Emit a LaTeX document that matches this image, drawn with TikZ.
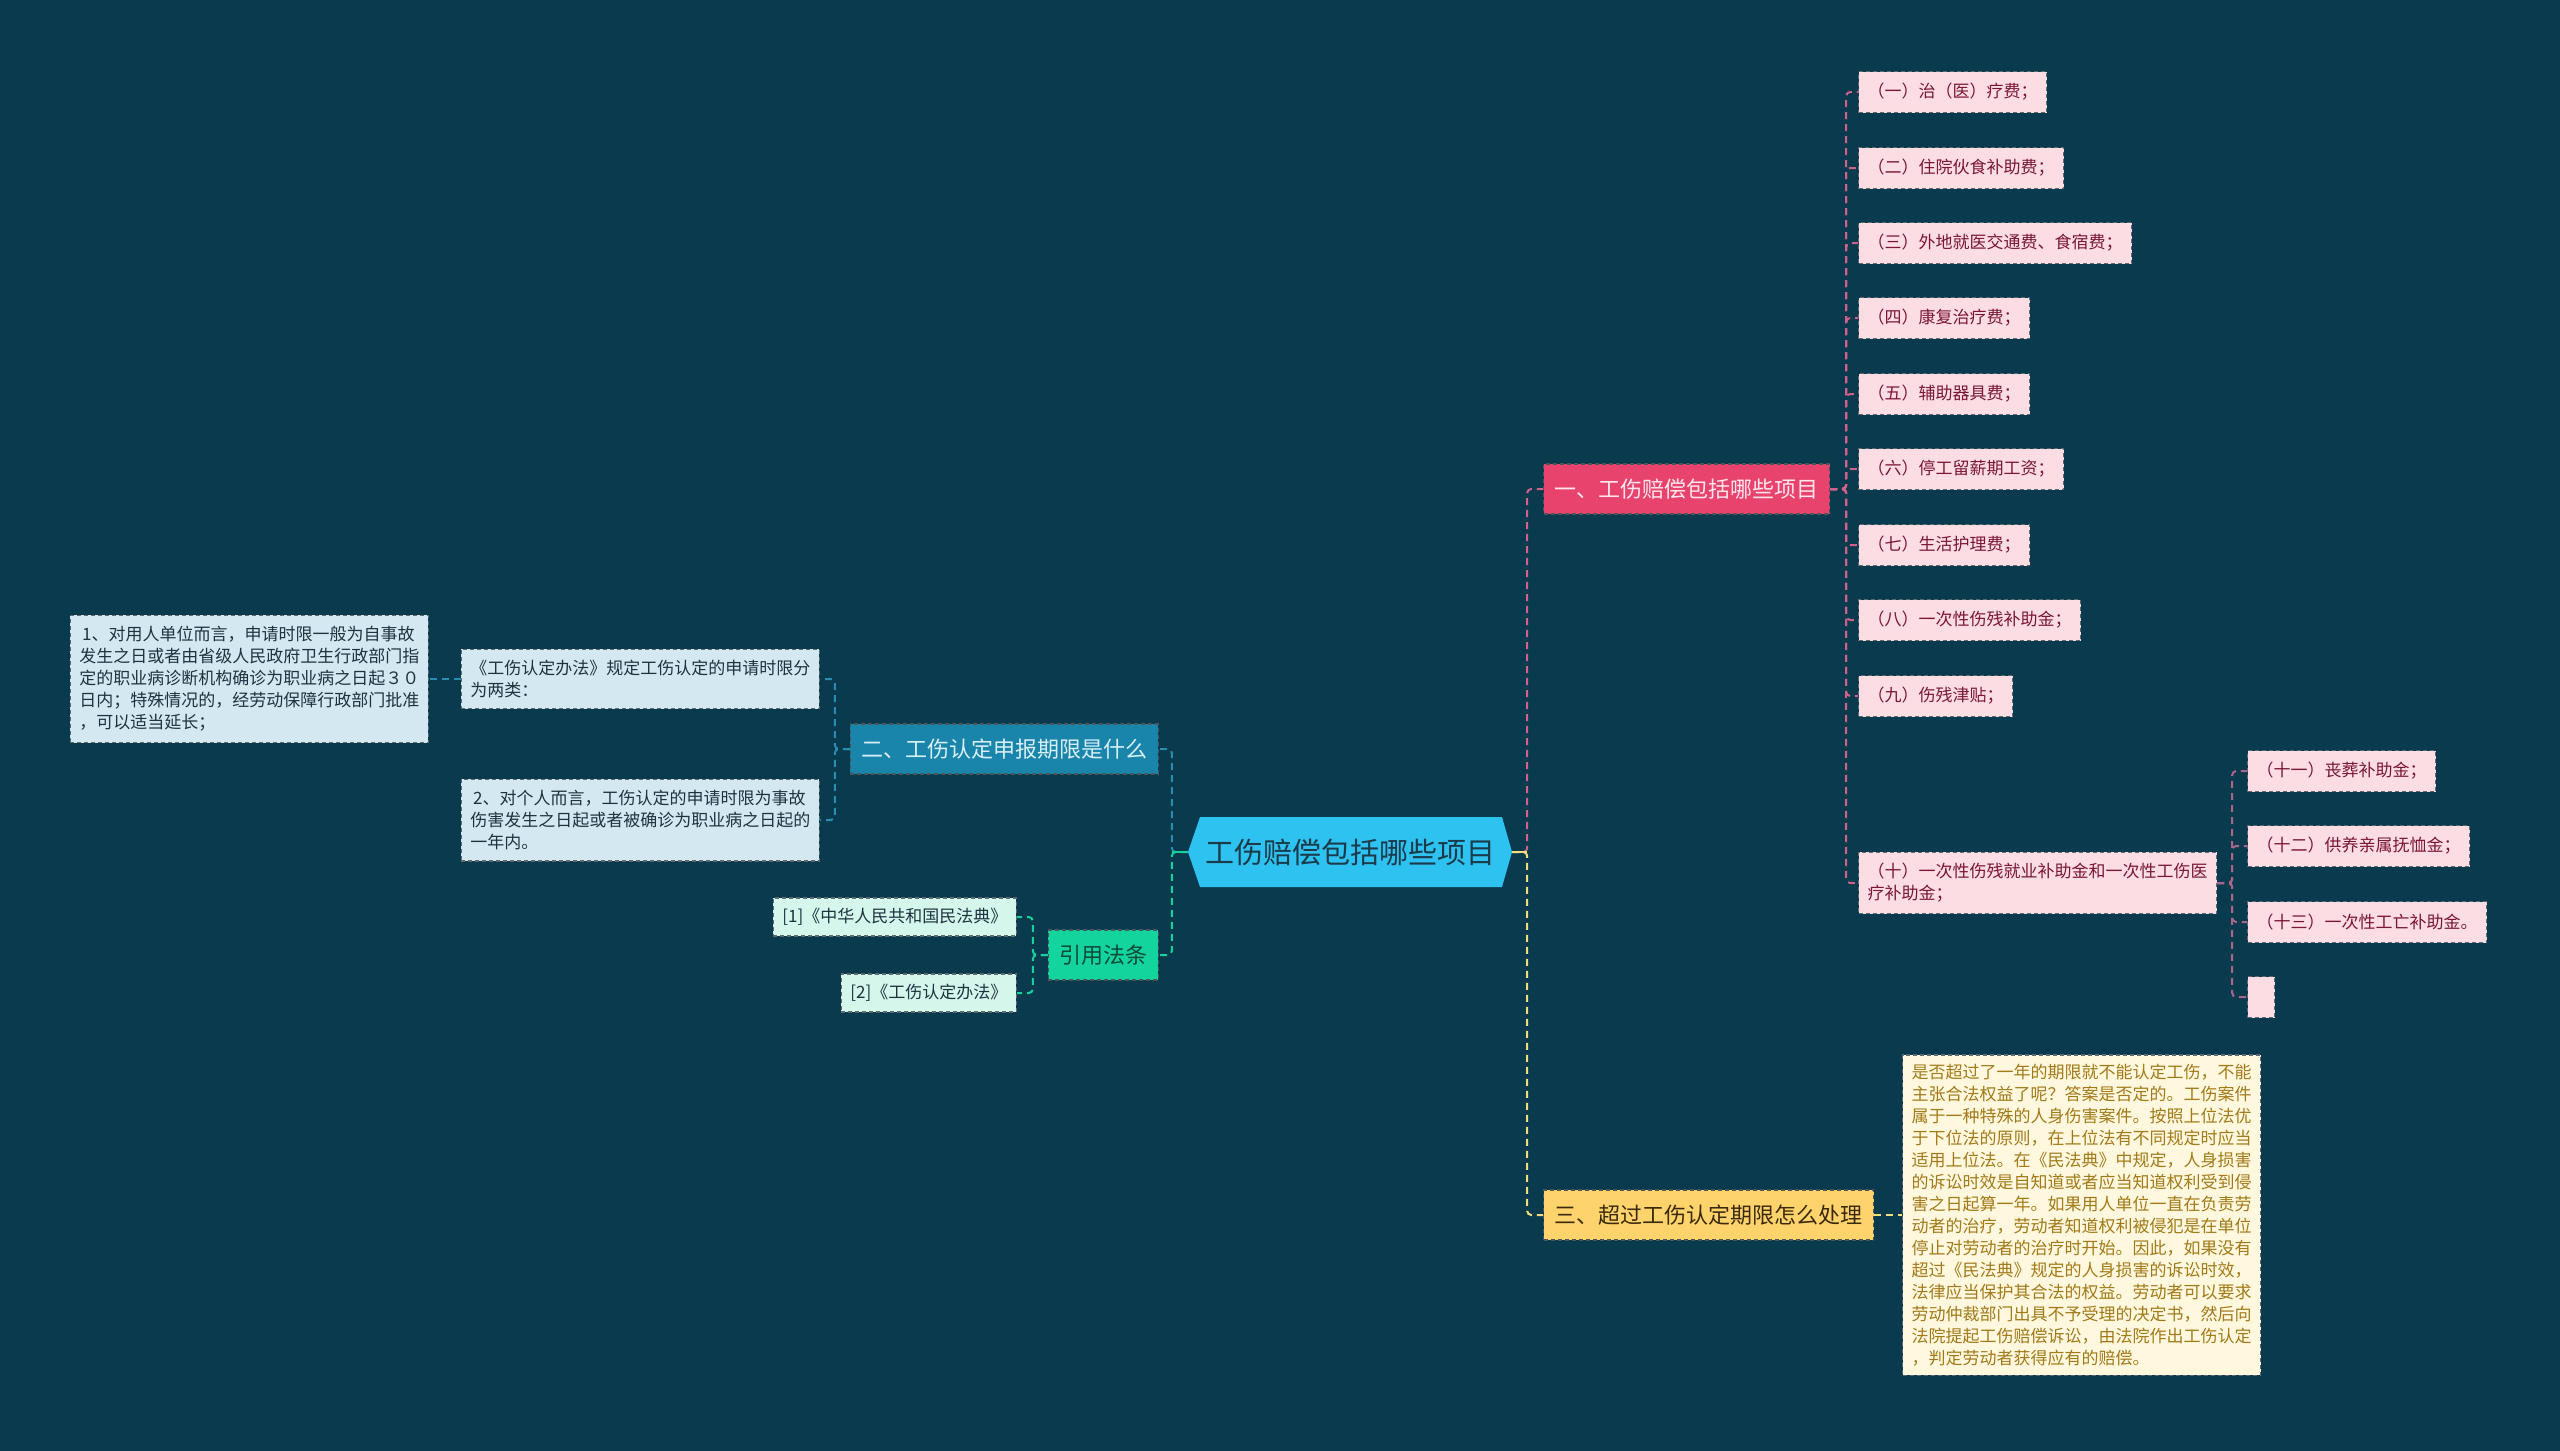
\documentclass[tikz,border=0pt]{standalone}
\usepackage{fontspec}
\setmainfont{Noto Sans CJK SC}
\definecolor{bg}{HTML}{093A4D}
\definecolor{cfill}{HTML}{2EC2F0}
\definecolor{ctext}{HTML}{1B3A4A}
\definecolor{c1}{HTML}{E8436C}
\definecolor{c1t}{HTML}{FFE6EE}
\definecolor{c2}{HTML}{1A85AB}
\definecolor{c2t}{HTML}{D8EFF7}
\definecolor{c3}{HTML}{FFD36B}
\definecolor{c3t}{HTML}{3A2A0C}
\definecolor{c4}{HTML}{13D49C}
\definecolor{c4t}{HTML}{0D4A3A}
\definecolor{pinkf}{HTML}{FCDDE3}
\definecolor{pinkt}{HTML}{7A1636}
\definecolor{bluef}{HTML}{D3E8F0}
\definecolor{bluet}{HTML}{1E3340}
\definecolor{mintf}{HTML}{D5F6EB}
\definecolor{yelf}{HTML}{FFF8DE}
\definecolor{yelt}{HTML}{A27A18}
\definecolor{bordc}{HTML}{5E6A70}
\definecolor{pinkc}{HTML}{D0628A}
\definecolor{pinkc2}{HTML}{A8668A}
\definecolor{bluec}{HTML}{2A8CB2}
\definecolor{greenc}{HTML}{18D09A}
\definecolor{yelc}{HTML}{F3DC7C}
\begin{document}
\begin{tikzpicture}[x=1pt,y=-1pt,
  box/.style={draw=bordc, dash pattern=on 4pt off 3pt, line width=1.2pt,
    inner xsep=9pt, inner ysep=0pt, align=left, font=\fontsize{17}{22}\selectfont},
  pinkleaf/.style={box, fill=pinkf, text=pinkt, minimum height=41pt},
  blueleaf/.style={box, fill=bluef, text=bluet, inner ysep=11pt},
  mintleaf/.style={box, fill=mintf, text=bluet, minimum height=38pt},
  yelleaf/.style={box, fill=yelf, text=yelt, inner ysep=9pt},
  branch/.style={draw=bordc!80!black, dash pattern=on 4pt off 3pt, line width=1.2pt,
    inner xsep=11pt, inner ysep=0pt, minimum height=50pt, font=\fontsize{22}{26}\selectfont},
  conn/.style={line width=2pt, dash pattern=on 7pt off 5pt, rounded corners=4pt}
]
\useasboundingbox (0,0) rectangle (2560,1451);
\fill[bg] (0,0) rectangle (2560,1451);

% central topic
\fill[cfill] (1188,852) -- (1200,817) -- (1502,817) -- (1512,852) -- (1502,887) -- (1200,887) -- cycle;
\node[font=\fontsize{29}{34}\selectfont, text=ctext, minimum width=324pt, minimum height=70pt, inner sep=0pt] (c) at (1350,852) {工伤赔偿包括哪些项目};

% main branches
\node[branch, fill=c1, text=c1t, anchor=west] (b1) at (1543,489) {一、工伤赔偿包括哪些项目};
\node[branch, fill=c3, text=c3t, anchor=west] (b3) at (1543,1215) {三、超过工伤认定期限怎么处理};
\node[branch, fill=c2, text=c2t, anchor=east] (b2) at (1159,749) {二、工伤认定申报期限是什么};
\node[branch, fill=c4, text=c4t, anchor=east] (b4) at (1159,955) {引用法条};

% branch 1 leaves
\node[pinkleaf, anchor=west] (l1) at (1858,92) {（一）治（医）疗费；};
\node[pinkleaf, anchor=west] (l2) at (1858,168) {（二）住院伙食补助费；};
\node[pinkleaf, anchor=west] (l3) at (1858,243) {（三）外地就医交通费、食宿费；};
\node[pinkleaf, anchor=west] (l4) at (1858,318) {（四）康复治疗费；};
\node[pinkleaf, anchor=west] (l5) at (1858,394) {（五）辅助器具费；};
\node[pinkleaf, anchor=west] (l6) at (1858,469) {（六）停工留薪期工资；};
\node[pinkleaf, anchor=west] (l7) at (1858,545) {（七）生活护理费；};
\node[pinkleaf, anchor=west] (l8) at (1858,620) {（八）一次性伤残补助金；};
\node[pinkleaf, anchor=west] (l9) at (1858,696) {（九）伤残津贴；};
\node[pinkleaf, inner ysep=11pt, anchor=west] (l10) at (1858,883) {（十）一次性伤残就业补助金和一次性工伤医\\疗补助金；};

\node[pinkleaf, anchor=west] (m1) at (2247,771) {（十一）丧葬补助金；};
\node[pinkleaf, anchor=west] (m2) at (2247,846) {（十二）供养亲属抚恤金；};
\node[pinkleaf, anchor=west] (m3) at (2247,922) {（十三）一次性工亡补助金。};
\node[pinkleaf, anchor=west, minimum width=27pt, inner xsep=0pt] (m4) at (2247,997) {};

% branch 2 leaves
\node[blueleaf, anchor=east] (a1) at (820,679) {《工伤认定办法》规定工伤认定的申请时限分\\为两类：};
\node[blueleaf, anchor=east] (a2) at (820,820) {\,2、对个人而言，工伤认定的申请时限为事故\\伤害发生之日起或者被确诊为职业病之日起的\\一年内。};
\node[blueleaf, anchor=east] (a0) at (429,679) {\,1、对用人单位而言，申请时限一般为自事故\\发生之日或者由省级人民政府卫生行政部门指\\定的职业病诊断机构确诊为职业病之日起３０\\日内；特殊情况的，经劳动保障行政部门批准\\，可以适当延长；};

% references
\node[mintleaf, anchor=east] (r1) at (1017,917) {[1]《中华人民共和国民法典》};
\node[mintleaf, anchor=east] (r2) at (1017,993) {[2]《工伤认定办法》};

% branch 3 leaf
\node[yelleaf, anchor=west] (y1) at (1902,1215) {是否超过了一年的期限就不能认定工伤，不能\\主张合法权益了呢？答案是否定的。工伤案件\\属于一种特殊的人身伤害案件。按照上位法优\\于下位法的原则，在上位法有不同规定时应当\\适用上位法。在《民法典》中规定，人身损害\\的诉讼时效是自知道或者应当知道权利受到侵\\害之日起算一年。如果用人单位一直在负责劳\\动者的治疗，劳动者知道权利被侵犯是在单位\\停止对劳动者的治疗时开始。因此，如果没有\\超过《民法典》规定的人身损害的诉讼时效，\\法律应当保护其合法的权益。劳动者可以要求\\劳动仲裁部门出具不予受理的决定书，然后向\\法院提起工伤赔偿诉讼，由法院作出工伤认定\\，判定劳动者获得应有的赔偿。};

% connectors from centre
\draw[conn, pinkc] (c.east) -- ++(15,0) |- (b1.west);
\draw[conn, yelc] (c.east) -- ++(15,0) |- (b3.west);
\draw[conn, bluec] (c.west) -- ++(-16,0) |- (b2.east);
\draw[conn, greenc] (c.west) -- ++(-16,0) |- (b4.east);
\draw[yelc, line width=2pt] (c.east) -- ++(15,0);
\draw[greenc, line width=2pt] (c.west) -- ++(-16,0);

% branch 1 connectors
\foreach \i in {1,...,10} {\draw[conn, pinkc] (b1.east) -- ++(16,0) |- (l\i.west);}
\foreach \i in {1,...,4} {\draw[conn, pinkc2] (l10.east) -- ++(15,0) |- (m\i.west);}

% branch 2 connectors
\draw[conn, bluec] (b2.west) -- ++(-15,0) |- (a1.east);
\draw[conn, bluec] (b2.west) -- ++(-15,0) |- (a2.east);
\draw[conn, bluec] (a1.west) -- (a0.east);

% references connectors
\draw[conn, greenc] (b4.west) -- ++(-15,0) |- (r1.east);
\draw[conn, greenc] (b4.west) -- ++(-15,0) |- (r2.east);

% branch 3 connector
\draw[conn, yelc] (b3.east) -- (y1.west);
\end{tikzpicture}
\end{document}
